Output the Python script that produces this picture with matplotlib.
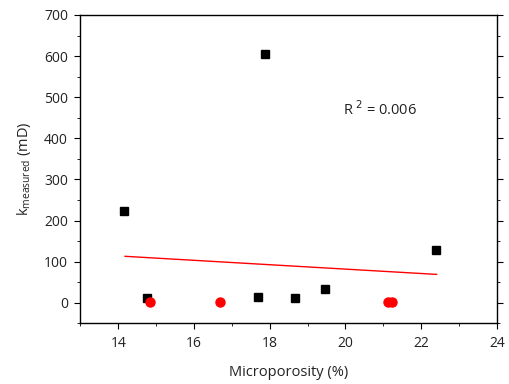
import matplotlib.pyplot as plt
from matplotlib.ticker import MultipleLocator

plt.rcParams['font.family'] = ['Open Sans', 'DejaVu Sans']

# black squares
sq_x = [14.16, 14.75, 17.88, 17.70, 18.66, 19.46, 22.39]
sq_y = [223, 11, 604, 15, 11, 33, 128]

# red circles
ci_x = [14.85, 16.69, 21.13, 21.22]
ci_y = [2, 2, 2, 2]

# fit line
fit_x = [14.18, 22.41]
fit_y = [113, 69]

fig = plt.figure(figsize=(5.09, 3.84), dpi=100)
ax = fig.add_axes([0.158, 0.158, 0.818, 0.803])

ax.plot(sq_x, sq_y, 's', color='black', markersize=6, zorder=3)
ax.plot(ci_x, ci_y, 'o', color='red', markersize=6.5, zorder=3)
ax.plot(fit_x, fit_y, '-', color='red', linewidth=1)

ax.text(19.95, 470, r'R$^{\ 2}$ = 0.006', fontsize=10.5, ha='left', va='center',
        color='#222222')

ax.set_xlim(13, 24)
ax.set_ylim(-50, 700)
ax.xaxis.set_major_locator(MultipleLocator(2))
ax.xaxis.set_minor_locator(MultipleLocator(1))
ax.yaxis.set_major_locator(MultipleLocator(100))
ax.yaxis.set_minor_locator(MultipleLocator(50))
ax.tick_params(which='both', direction='out', right=True, top=False, labelsize=10,
               labelcolor='#222222')
ax.tick_params(which='major', length=4, pad=5)
ax.tick_params(which='minor', length=2)
for s in ax.spines.values():
    s.set_linewidth(1)

ax.set_xlabel('Microporosity (%)', fontsize=10.5, labelpad=10, color='#222222')
ax.set_ylabel(r'k$_{\mathregular{measured}}$ (mD)', fontsize=10.5, labelpad=8,
              color='#222222')

plt.savefig('out.png', dpi=100)
